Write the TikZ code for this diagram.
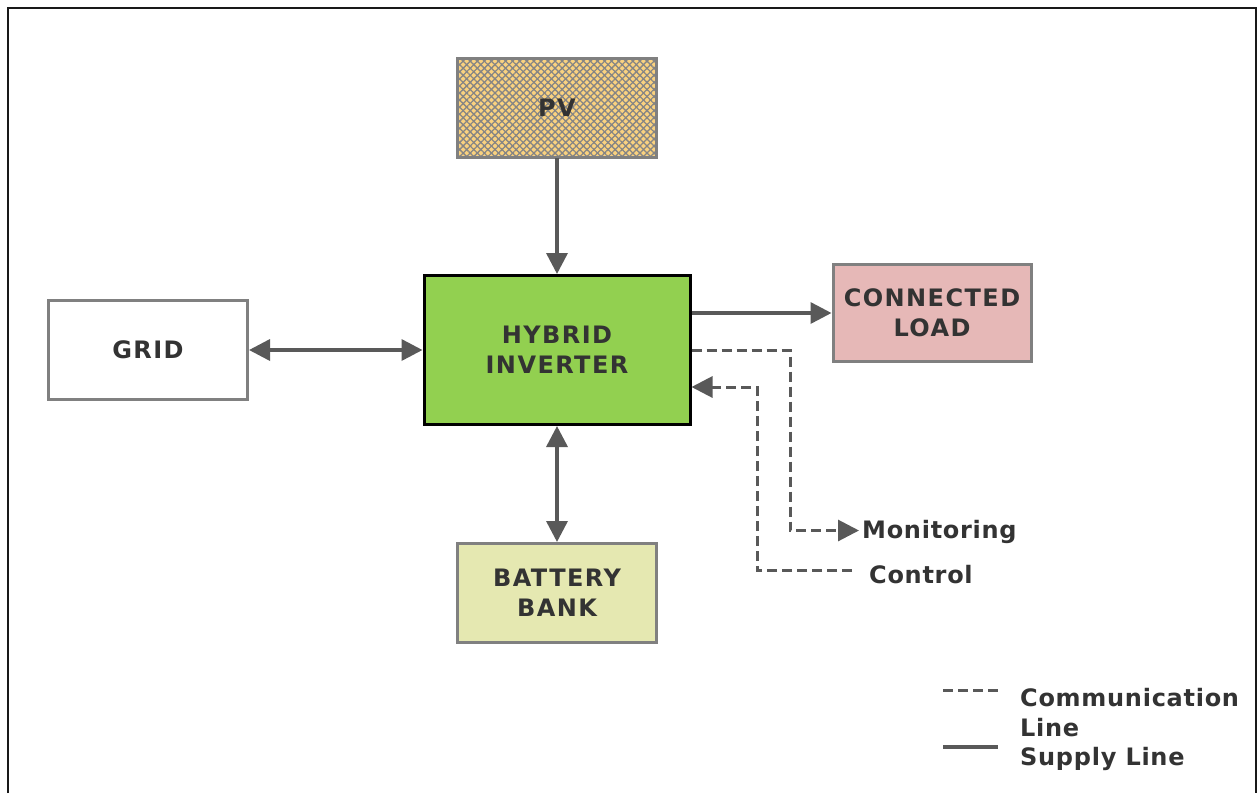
\documentclass[tikz,border=0pt]{standalone}
\usepackage{fontspec}
\setmainfont[LetterSpace=3]{DejaVu Sans}
\newfontfamily\boxfont[LetterSpace=6]{DejaVu Sans}
\usetikzlibrary{arrows.meta,patterns.meta}

\definecolor{linegray}{HTML}{595959}
\definecolor{boxgray}{HTML}{808080}
\definecolor{txt}{HTML}{333333}
\definecolor{pvfill}{HTML}{FAD27F}
\definecolor{hatch}{HTML}{858585}
\definecolor{invfill}{HTML}{92D050}
\definecolor{loadfill}{HTML}{E6B8B7}
\definecolor{batfill}{HTML}{E5E8B1}

\tikzset{
  block/.style={draw=boxgray, line width=3pt, minimum width=199pt, minimum height=99pt,
    inner sep=0pt, align=center, text=txt,
    font=\boxfont\bfseries\fontsize{24}{30}\selectfont},
  label/.style={anchor=base west, inner sep=0pt, text=txt,
    font=\bfseries\fontsize{24}{30}\selectfont},
  supply/.style={draw=linegray, line width=3.5pt},
  comm/.style={draw=linegray, line width=3pt, dash pattern=on 10pt off 5pt},
  tip/.style={-{Triangle[length=21pt,width=21pt]}},
  tips/.style={{Triangle[length=21pt,width=21pt]}-{Triangle[length=21pt,width=21pt]}},
}

\begin{document}
\begin{tikzpicture}[x=1pt,y=-1pt]
\useasboundingbox (0,0) rectangle (1258,793);
% frame, open at the bottom
\draw[line width=2.5pt, color=black!90] (8,793) -- (8,8) -- (1256,8) -- (1256,793);

% blocks
\node[block, pattern={Lines[angle=45,distance=5pt,line width=1.3pt]}, pattern color=hatch,
      preaction={fill=pvfill}] (pv) at (557,108) {};
\node[block, draw=none, pattern={Lines[angle=-45,distance=5pt,line width=1.3pt]}, pattern color=hatch] at (557,108) {};
\node[block, fill=none] (pvtext) at (557,108) {PV};
\node[block, fill=invfill, draw=black, minimum width=266pt, minimum height=149pt] (inv) at (557,350) {HYBRID\\INVERTER};
\node[block, fill=white] (grid) at (148,350) {GRID};
\node[block, fill=loadfill, minimum width=198pt, minimum height=97pt] (load) at (932,313) {CONNECTED\\LOAD};
\node[block, fill=batfill] (bat) at (557,593) {BATTERY\\BANK};

% supply lines
\draw[supply, tip] (pv.south) -- (inv.north);
\draw[supply, tips] (grid.east) -- (inv.west);
\draw[supply, tip] (inv.east |- load.west) -- (load.west);
\draw[supply, tips] (inv.south) -- (bat.north);

% communication lines
\node[label] (mon) at (862,538.5) {Monitoring};
\node[label] (ctl) at (869,583.5) {Control};
\coordinate (monturn) at (790,350);
\coordinate (ctlturn) at (757,387);
\draw[comm, tip] (inv.east) -- (monturn) |- ([xshift=-3pt,yshift=8pt]mon.base west);
\draw[comm, tip] ([xshift=-17pt,yshift=13pt]ctl.base west) -| (ctlturn) -- (ctlturn -| inv.east);

% legend
\coordinate (lc1) at (943,690);
\coordinate (lc2) at (998,690);
\coordinate (ls1) at (943,747);
\coordinate (ls2) at (998,747);
\draw[comm] (lc1) -- (lc2);
\draw[supply] (ls1) -- (ls2);
\node[label, align=left, anchor=north west] (legcomm) at (1020,688) {Communication\\Line};
\node[label] (legsup) at (1020,765.5) {Supply Line};
\end{tikzpicture}
\end{document}
